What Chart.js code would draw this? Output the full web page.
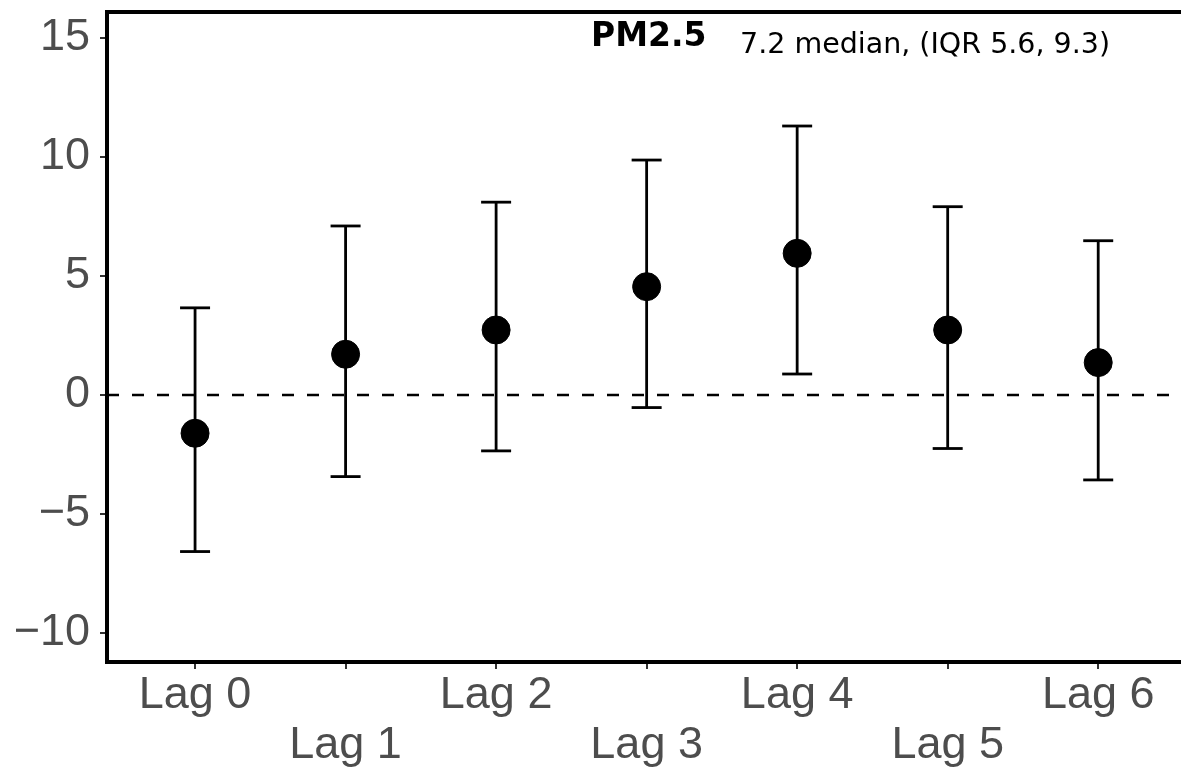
<!DOCTYPE html>
<html>
<head>
<meta charset="utf-8">
<script src="https://cdn.jsdelivr.net/npm/chart.js@4.4.0/dist/chart.umd.min.js"></script>
<style>
  html, body { margin: 0; padding: 0; background: #fff; overflow: hidden; }
  #wrap { width: 1181px; height: 770px; position: relative; }
  #lagChart { display: block; }
</style>
</head>
<body>
<div id="wrap"><canvas id="lagChart"></canvas></div>
<script>
// values
const lags = ['Lag 0', 'Lag 1', 'Lag 2', 'Lag 3', 'Lag 4', 'Lag 5', 'Lag 6'];
const estimate = [-1.61, 1.71, 2.73, 4.55, 5.95, 2.73, 1.36];
const lower = [-6.58, -3.43, -2.35, -0.53, 0.88, -2.25, -3.57];
const upper = [3.66, 7.10, 8.10, 9.87, 11.30, 7.91, 6.48];
const yTicks = [-10, -5, 0, 5, 10, 15];
const xRange = [-0.585, 6.55];
const yRange = [-11.22, 16.09];
const titleText = 'PM2.5';
const noteText = '7.2 median, (IQR 5.6, 9.3)';

const tickFont = { family: '"Liberation Sans", Arial, sans-serif', size: 45, lineHeight: 1.11 };
const tickColor = '#4d4d4d';

// point estimates on top, then one dataset per error bar, then the dashed zero line
const datasets = [{
    type: 'scatter',
    data: estimate.map((v, i) => ({ x: i, y: v })),
    backgroundColor: '#000',
    borderColor: '#000',
    pointRadius: 14,
    borderWidth: 1
}];

lags.forEach((lag, i) => {
    datasets.push({
        type: 'line',
        data: [{ x: i, y: lower[i] }, { x: i, y: upper[i] }],
        borderColor: '#000',
        borderWidth: 2.8,
        pointStyle: 'line',
        pointRadius: 15,
        pointBorderWidth: 2.8,
        pointBorderColor: '#000'
    });
});

datasets.push({
    type: 'line',
    data: [{ x: xRange[0], y: 0 }, { x: xRange[1], y: 0 }],
    borderColor: '#000',
    borderWidth: 2.5,
    borderDash: [12, 13],
    pointRadius: 0
});

// header text in the top of the panel
const headerText = {
    id: 'headerText',
    afterDraw(chart) {
        const ctx = chart.ctx;
        ctx.save();
        ctx.fillStyle = '#000';
        ctx.textBaseline = 'alphabetic';
        ctx.textAlign = 'left';
        ctx.font = 'bold 33px "DejaVu Sans"';
        ctx.fillText(titleText, 591, 46);
        ctx.font = '28.5px "DejaVu Sans"';
        ctx.fillText(noteText, 740, 53);
        ctx.restore();
    }
};

const ctx = document.getElementById('lagChart').getContext('2d');
new Chart(ctx, {
    data: { datasets: datasets },
    options: {
        responsive: true,
        maintainAspectRatio: false,
        animation: false,
        events: [],
        layout: { autoPadding: false, padding: { top: 12, right: 0, bottom: 0, left: 0 } },
        plugins: {
            legend: { display: false },
            tooltip: { enabled: false }
        },
        scales: {
            x: {
                type: 'linear',
                position: 'bottom',
                min: xRange[0],
                max: xRange[1],
                afterBuildTicks: axis => { axis.ticks = lags.map((l, i) => ({ value: i })); },
                afterFit: axis => {
                    axis.height = 108;
                    axis.paddingLeft = 0;
                    axis.paddingRight = 0;
                },
                grid: { drawOnChartArea: false, drawTicks: true, tickLength: 7, tickColor: '#333', lineWidth: 2 },
                border: { display: true, color: '#000', width: 4 },
                ticks: {
                    autoSkip: false,
                    maxRotation: 0,
                    minRotation: 0,
                    padding: 2,
                    color: tickColor,
                    font: tickFont,
                    callback: (v, i) => (i % 2 ? ['', lags[v]] : lags[v])
                }
            },
            xTop: {
                type: 'linear',
                position: 'top',
                min: xRange[0],
                max: xRange[1],
                afterFit: axis => {
                    axis.height = 0;
                    axis.paddingLeft = 0;
                    axis.paddingRight = 0;
                },
                grid: { display: false },
                border: { display: true, color: '#000', width: 4 },
                ticks: { display: false }
            },
            y: {
                type: 'linear',
                min: yRange[0],
                max: yRange[1],
                afterBuildTicks: axis => { axis.ticks = yTicks.map(v => ({ value: v })); },
                afterFit: axis => {
                    axis.width = 107;
                    axis.paddingTop = 0;
                    axis.paddingBottom = 0;
                },
                grid: { drawOnChartArea: false, drawTicks: true, tickLength: 7, tickColor: '#333', lineWidth: 2 },
                border: { display: true, color: '#000', width: 4 },
                ticks: {
                    padding: 10,
                    color: tickColor,
                    font: tickFont,
                    callback: v => String(v).replace('-', '\u2212')
                }
            }
        }
    },
    plugins: [headerText]
});
</script>
</body>
</html>
